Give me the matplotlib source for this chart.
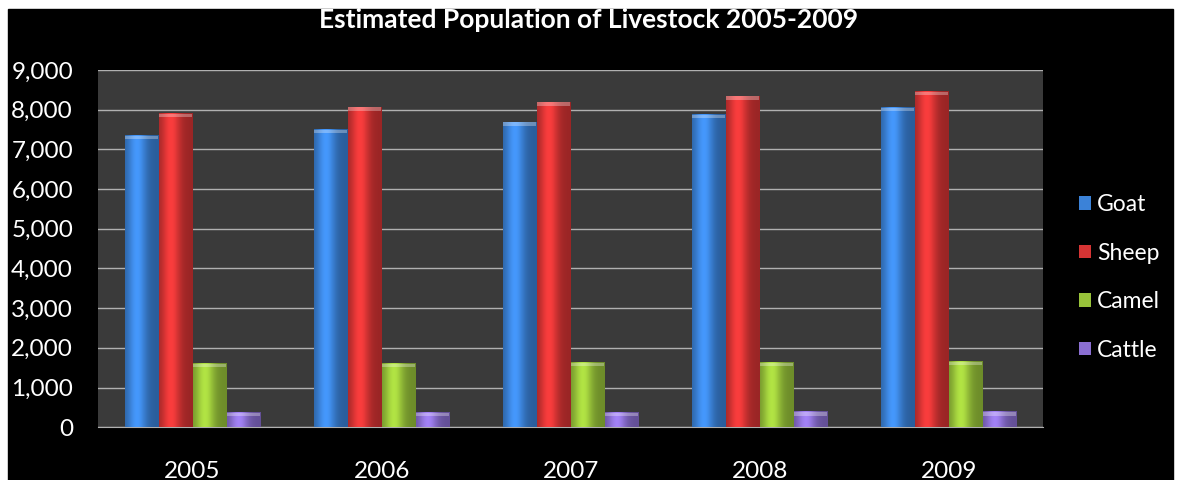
import numpy as np
import matplotlib
matplotlib.use("Agg")
import matplotlib.pyplot as plt
from matplotlib.colors import to_rgb
from matplotlib.patches import Rectangle
from matplotlib.ticker import FuncFormatter

plt.rcParams['font.family'] = ['Lato', 'DejaVu Sans']

years = ['2005', '2006', '2007', '2008', '2009']
goat = [7350, 7500, 7680, 7880, 8050]
sheep = [7900, 8060, 8190, 8340, 8460]
camel = [1600, 1600, 1620, 1630, 1650]
cattle = [370, 370, 370, 380, 380]

names = ['Goat', 'Sheep', 'Camel', 'Cattle']
colors = ['#3b82d8', '#d63434', '#98c33a', '#8b6fd2']
series = [goat, sheep, camel, cattle]

fig = plt.figure(figsize=(11.77, 4.8), dpi=100, facecolor='white')
# black slide background inside a thin white border
fig.patches.append(Rectangle((8 / 1177, 0), (1173 - 8) / 1177, 1 - 9 / 480,
                             transform=fig.transFigure, color='black', zorder=-10))

ax = fig.add_axes([0.0833, 0.110, 0.803, 0.744])
ax.set_facecolor('#3a3a3a')

# horizontal shading across a bar: darker edges, light band left of centre
t = np.linspace(0, 1, 40)
shade = 0.72 + 0.45 * np.exp(-((t - 0.35) / 0.28) ** 2)

x = np.arange(len(years))
w = 0.18
for i, (vals, c, n) in enumerate(zip(series, colors, names)):
    pos = x + (i - 1.5) * w
    bars = ax.bar(pos, vals, width=w * 0.97, color=c, label=n, zorder=3)
    rgb = np.clip(np.outer(shade, to_rgb(c)), 0, 1)[None, :, :]
    for b in bars:
        x0, h, bw = b.get_x(), b.get_height(), b.get_width()
        ax.imshow(rgb, extent=[x0, x0 + bw, 0, h], aspect='auto', zorder=3.5,
                  interpolation='bilinear')
    # light cap on top of each bar
    ax.bar(pos, [90] * len(vals), bottom=[v - 90 for v in vals],
           width=w * 0.97, color='white', alpha=0.3, zorder=4)

ax.set_xlim(-0.5, len(years) - 0.5)
ax.set_ylim(0, 9000)
ax.set_yticks(range(0, 9001, 1000))
ax.yaxis.set_major_formatter(FuncFormatter(lambda v, p: f'{int(v):,}'))
ax.set_xticks(x)
ax.set_xticklabels(years)
ax.grid(axis='y', color='#b0b0b0', linewidth=1.0, zorder=1)
ax.tick_params(axis='both', colors='white', labelsize=17.5, length=0)
ax.tick_params(axis='x', pad=24)
ax.tick_params(axis='y', pad=18)
for s in ['top', 'right', 'left']:
    ax.spines[s].set_visible(False)
ax.spines['bottom'].set_color('#b0b0b0')

fig.text(0.5, 0.959, 'Estimated Population of Livestock 2005-2009', color='white',
         fontsize=19, fontweight='bold', ha='center', va='center')

leg = fig.legend(loc='center left', bbox_to_anchor=(0.903, 0.422), frameon=False,
                 fontsize=16.5, labelcolor='white', handlelength=0.55, handleheight=0.55,
                 handletextpad=0.25, labelspacing=1.2, borderpad=0.2)

fig.savefig('out.png', dpi=100, facecolor=fig.get_facecolor())
